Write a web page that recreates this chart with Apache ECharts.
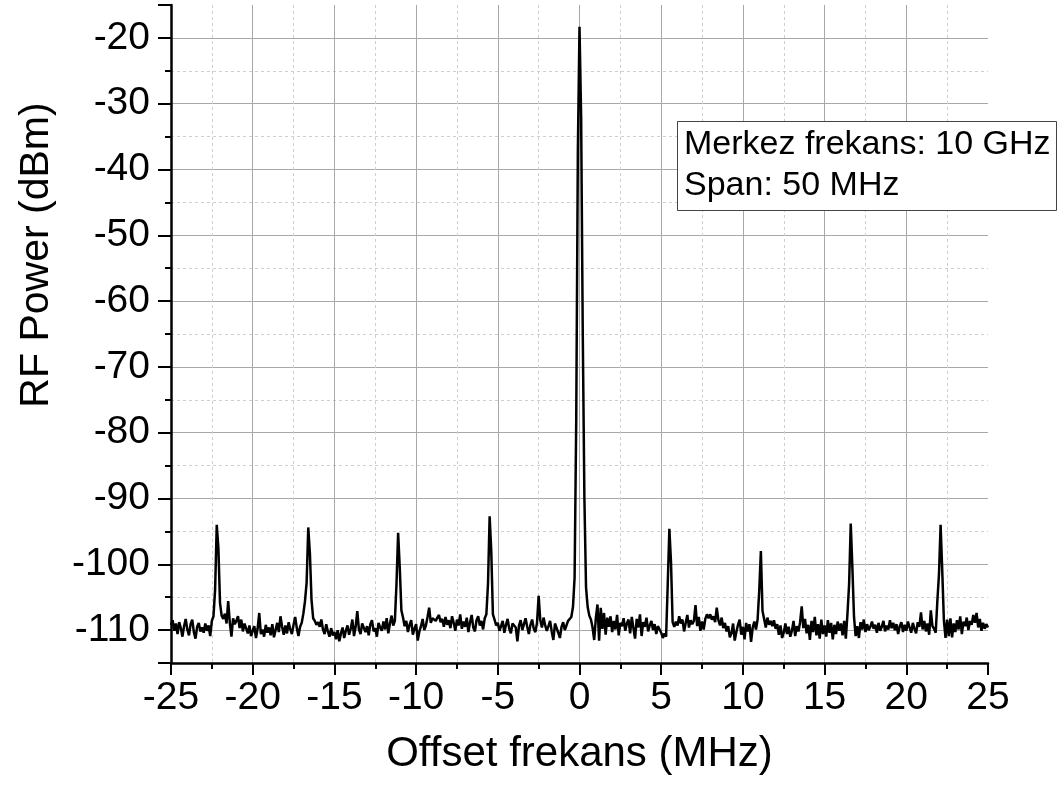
<!DOCTYPE html>
<html>
<head>
<meta charset="utf-8">
<script src="https://cdn.jsdelivr.net/npm/echarts@6/dist/echarts.min.js"></script>
<style>
  html, body { margin: 0; padding: 0; background: #fff; }
  #chart { width: 1058px; height: 807px; }
</style>
</head>
<body>
<div id="chart"></div>
<script>
// RF spectrum around the 10 GHz carrier, 50 MHz span, 0.1 MHz per sweep point
const freqStart = -25.0;   // MHz
const freqStep = 0.1;      // MHz

// Measured power (dBm), one row per MHz of offset, starting at -25 MHz
const powerDbm = [
  -109.2,-108.5,-110.1,-109.0,-110.6,-108.8,-109.7,-111.0,-109.4,-108.3,
  -109.9,-110.8,-109.1,-108.4,-110.3,-111.3,-109.5,-108.9,-110.2,-109.6,
  -110.4,-109.0,-110.1,-109.3,-110.9,-108.6,-107.9,-103.8,-94.0,-97.5,
  -105.9,-107.8,-108.3,-107.5,-109.0,-105.6,-108.9,-111.0,-108.2,-109.1,
  -108.6,-107.9,-109.7,-108.4,-110.2,-109.0,-108.7,-110.5,-109.3,-110.9,
  -110.1,-109.4,-111.2,-109.8,-107.4,-110.6,-109.9,-111.0,-109.2,-110.4,
  -109.6,-110.8,-109.1,-111.1,-110.0,-108.9,-110.3,-107.9,-109.5,-110.7,
  -109.3,-110.5,-108.8,-109.9,-110.6,-109.2,-108.0,-109.7,-110.9,-109.5,
  -108.9,-107.5,-105.6,-102.8,-94.4,-98.3,-105.4,-108.2,-108.6,-109.2,
  -108.8,-109.5,-108.4,-109.9,-110.6,-109.1,-110.2,-111.0,-109.7,-110.8,
  -110.3,-111.4,-110.0,-111.7,-110.5,-109.6,-111.2,-110.1,-109.3,-110.7,
  -109.8,-108.4,-110.9,-109.5,-107.1,-109.9,-110.6,-109.0,-108.7,-110.3,
  -109.4,-110.8,-109.1,-108.5,-110.2,-109.7,-111.0,-108.9,-109.6,-110.1,
  -108.7,-109.9,-108.2,-110.5,-109.0,-107.8,-109.3,-108.6,-103.0,-95.2,
  -100.5,-107.0,-108.1,-109.4,-108.6,-110.3,-109.2,-108.5,-110.7,-109.8,
  -109.1,-111.6,-110.2,-109.4,-108.3,-110.0,-109.3,-108.0,-106.6,-108.9,
  -108.2,-107.9,-108.6,-108.1,-107.7,-108.8,-108.3,-109.5,-108.0,-109.2,
  -108.5,-109.7,-107.9,-108.9,-110.1,-108.4,-109.3,-107.6,-109.8,-108.7,
  -109.5,-108.1,-110.3,-108.8,-107.7,-109.6,-110.2,-108.5,-107.9,-109.3,
  -108.6,-109.9,-108.2,-107.6,-103.0,-92.7,-98.0,-107.6,-108.4,-109.3,
  -108.9,-110.1,-109.4,-108.6,-110.4,-109.2,-108.3,-109.8,-110.5,-109.0,
  -108.7,-109.6,-111.7,-109.3,-108.5,-110.0,-109.1,-108.2,-109.5,-110.6,
  -109.2,-108.4,-109.8,-110.3,-108.9,-104.8,-108.5,-109.6,-108.1,-109.3,
  -110.1,-109.4,-108.6,-110.2,-111.5,-109.0,-108.7,-110.4,-111.2,-109.5,
  -108.8,-110.0,-109.3,-108.6,-108.5,-108.0,-106.5,-102.0,-78.0,-37.0,
  -18.3,-32.0,-65.0,-90.0,-103.5,-106.5,-107.8,-108.4,-109.6,-111.5,
  -108.2,-106.1,-111.6,-106.6,-109.8,-107.4,-110.7,-108.1,-109.5,-107.9,
  -110.3,-108.6,-109.9,-107.7,-110.8,-108.9,-109.4,-108.2,-110.1,-109.0,
  -108.4,-110.5,-108.0,-109.7,-111.3,-108.3,-109.6,-107.6,-110.9,-108.8,
  -109.5,-108.1,-110.2,-109.3,-108.6,-110.0,-109.1,-110.6,-109.4,-109.9,
  -110.4,-111.2,-110.5,-111.0,-103.0,-94.6,-99.7,-108.8,-109.5,-108.7,
  -109.3,-107.9,-109.0,-108.4,-110.2,-108.9,-107.7,-109.6,-108.5,-109.1,
  -108.6,-106.2,-109.4,-108.0,-110.1,-108.7,-109.9,-108.3,-107.6,-108.2,
  -107.6,-108.4,-107.9,-108.8,-106.6,-108.5,-109.3,-108.1,-109.7,-108.9,
  -110.2,-109.4,-111.1,-110.5,-109.0,-111.6,-110.3,-109.2,-108.4,-110.7,
  -109.5,-111.4,-108.9,-110.2,-109.1,-111.8,-109.6,-108.7,-109.9,-108.4,
  -104.0,-98.0,-107.1,-108.3,-109.6,-108.1,-109.2,-108.6,-109.4,-108.5,
  -109.8,-109.1,-110.7,-109.3,-111.2,-110.4,-109.0,-110.6,-109.5,-111.0,
  -110.1,-108.6,-110.9,-109.4,-110.2,-108.8,-106.4,-109.7,-108.3,-110.5,
  -109.2,-111.5,-108.6,-110.3,-108.0,-110.8,-109.1,-111.3,-108.4,-110.6,
  -109.3,-111.0,-108.5,-110.4,-108.9,-111.4,-109.2,-110.6,-108.7,-110.1,
  -109.0,-110.8,-108.6,-111.3,-107.5,-103.0,-93.8,-100.5,-108.0,-110.9,
  -109.4,-111.2,-108.8,-109.9,-108.4,-110.3,-109.1,-110.0,-109.5,-108.7,
  -109.8,-109.2,-110.4,-108.9,-110.1,-109.5,-108.6,-110.2,-109.3,-109.9,
  -108.5,-109.7,-108.9,-110.0,-109.1,-110.6,-109.4,-108.8,-110.3,-109.2,
  -110.1,-108.7,-109.6,-110.4,-108.9,-109.8,-110.5,-108.8,-109.5,-107.3,
  -109.9,-108.6,-110.2,-109.0,-110.7,-107.0,-109.4,-109.8,-110.4,-105.6,
  -101.5,-94.0,-101.0,-108.5,-111.2,-108.4,-110.9,-108.2,-111.1,-109.0,
  -110.3,-108.5,-109.9,-107.9,-110.6,-108.7,-109.4,-108.1,-110.0,-108.6,
  -109.2,-107.7,-108.9,-107.4,-109.6,-108.3,-110.1,-108.9,-109.8,-109.1,
  -109.6
];

// Annotation lines
const infoLines = ['Merkez frekans: 10 GHz', 'Span: 50 MHz'];

// Axis titles
const xTitle = 'Offset frekans (MHz)';
const yTitle = 'RF Power (dBm)';

const FONT = '"Liberation Sans", Arial, sans-serif';

const traceData = powerDbm.map((p, i) => [+(freqStart + i * freqStep).toFixed(1), p]);

const chart = echarts.init(document.getElementById('chart'), null, { renderer: 'canvas' });

const majorGrid = { show: true, showMinLine: false, showMaxLine: false,
  lineStyle: { color: '#a8a8a8', width: 1, type: 'solid' } };
const minorGrid = { show: true, lineStyle: { color: '#cfcfcf', width: 1, type: [3, 3] } };

chart.setOption({
  animation: false,
  backgroundColor: '#ffffff',
  grid: { left: 171, right: 70, top: 5, bottom: 144, containLabel: false },
  xAxis: {
    type: 'value',
    min: -25, max: 25, interval: 5,
    name: xTitle,
    nameLocation: 'middle',
    nameGap: 70,
    nameTextStyle: { fontFamily: FONT, fontSize: 42, color: '#000' },
    axisLine: { show: true, onZero: false, lineStyle: { color: '#000', width: 2.5 } },
    axisTick: { show: true, inside: false, length: 12, lineStyle: { color: '#000', width: 2 } },
    minorTick: { show: true, splitNumber: 2, length: 6, lineStyle: { color: '#000', width: 2 } },
    axisLabel: { fontFamily: FONT, fontSize: 39, color: '#000', margin: 16 },
    splitLine: majorGrid,
    minorSplitLine: minorGrid
  },
  yAxis: {
    type: 'value',
    min: -115, max: -15, splitNumber: 10,
    name: yTitle,
    nameLocation: 'middle',
    nameGap: 114,
    nameRotate: 90,
    nameTextStyle: { fontFamily: FONT, fontSize: 41, color: '#000', padding: [0, 0, 0, 158] },
    axisLine: { show: true, onZero: false, lineStyle: { color: '#000', width: 2.5 } },
    axisTick: { show: true, inside: false, length: 13, lineStyle: { color: '#000', width: 2 } },
    minorTick: { show: true, splitNumber: 2, length: 6, lineStyle: { color: '#000', width: 2 } },
    axisLabel: {
      fontFamily: FONT, fontSize: 39, color: '#000', margin: 21,
      formatter: v => (v % 10 === 0 ? String(v) : '')
    },
    splitLine: majorGrid,
    minorSplitLine: minorGrid
  },
  series: [{
    type: 'line',
    data: traceData,
    showSymbol: false,
    symbol: 'none',
    lineStyle: { color: '#000', width: 2.5 },
    z: 5
  }],
  graphic: [
    { type: 'rect', left: 677, top: 121, z: 100,
      shape: { width: 379, height: 89 },
      style: { fill: '#fff', stroke: '#444', lineWidth: 1 } },
    { type: 'text', left: 684, top: 128, z: 101,
      style: { text: infoLines[0], font: '34px ' + FONT, fill: '#000' } },
    { type: 'text', left: 684, top: 169, z: 101,
      style: { text: infoLines[1], font: '34px ' + FONT, fill: '#000' } }
  ]
});
</script>
</body>
</html>
